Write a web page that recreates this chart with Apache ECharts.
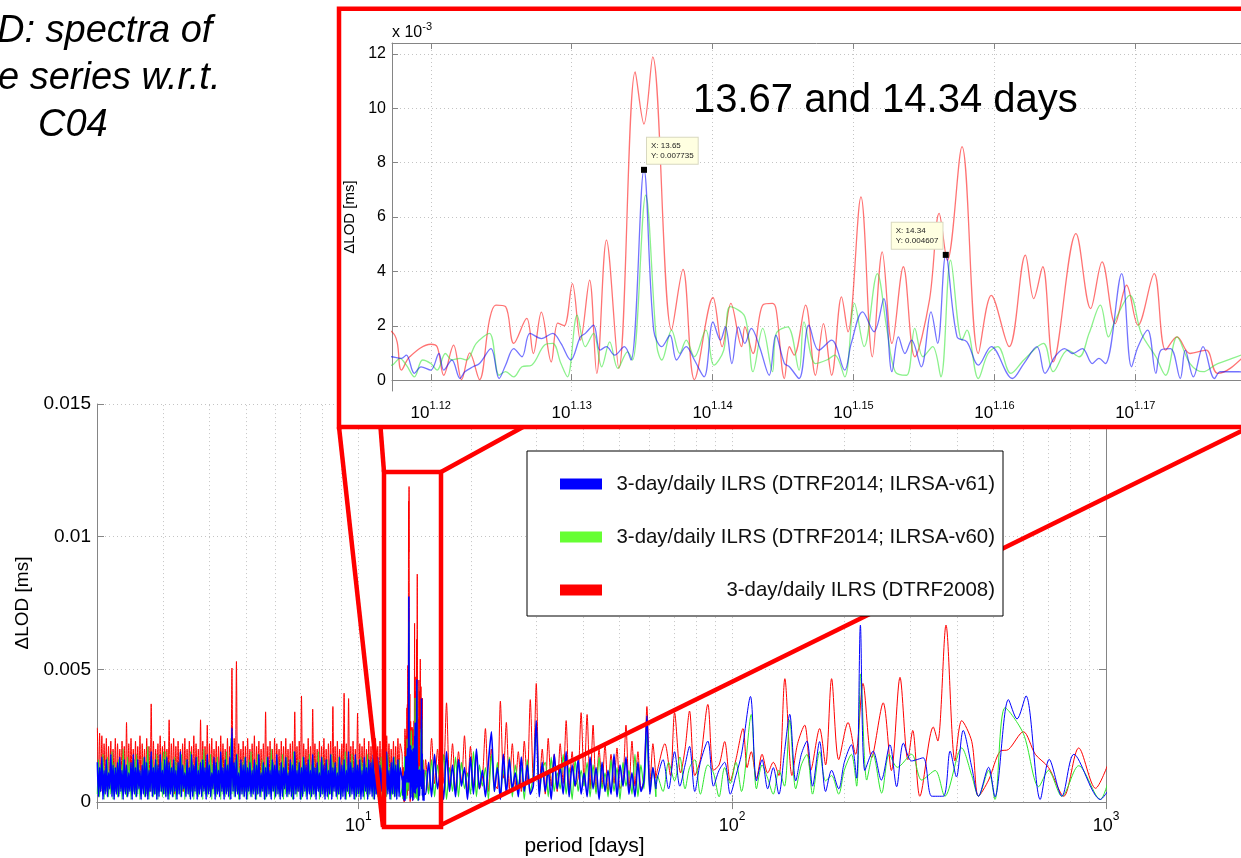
<!DOCTYPE html>
<html><head><meta charset="utf-8">
<script src="https://cdn.jsdelivr.net/npm/echarts@6/dist/echarts.min.js"></script>
<style>html,body{margin:0;padding:0;background:#fff;}#c{width:1241px;height:858px;}</style>
</head><body><div id="c"></div>
<script>
// ---------- data (values in 1e-3 ms; x as log10(period [days])) ----------
const seriesNames = ['3-day/daily ILRS (DTRF2014; ILRSA-v61)','3-day/daily ILRS (DTRF2014; ILRSA-v60)','3-day/daily ILRS (DTRF2008)'];

const denseLogP = [0.302,0.305,0.308,0.311,0.314,0.317,0.320,0.323,0.326,0.329,
0.332,0.335,0.338,0.341,0.344,0.347,0.350,0.353,0.356,0.359,
0.362,0.365,0.368,0.371,0.374,0.377,0.380,0.383,0.386,0.389,
0.392,0.395,0.398,0.401,0.404,0.407,0.410,0.413,0.416,0.419,
0.422,0.425,0.428,0.431,0.434,0.437,0.440,0.443,0.446,0.449,
0.452,0.455,0.458,0.461,0.464,0.467,0.470,0.473,0.476,0.479,
0.482,0.485,0.488,0.491,0.494,0.497,0.500,0.503,0.506,0.509,
0.512,0.515,0.518,0.521,0.524,0.527,0.530,0.533,0.536,0.539,
0.542,0.545,0.548,0.551,0.554,0.557,0.560,0.563,0.566,0.569,
0.572,0.575,0.578,0.581,0.584,0.587,0.590,0.593,0.596,0.599,
0.602,0.605,0.608,0.611,0.614,0.617,0.620,0.623,0.626,0.629,
0.632,0.635,0.638,0.641,0.644,0.647,0.650,0.653,0.656,0.659,
0.662,0.665,0.668,0.671,0.674,0.677,0.680,0.683,0.686,0.689,
0.692,0.695,0.698,0.701,0.704,0.707,0.710,0.713,0.716,0.719,
0.722,0.725,0.728,0.731,0.734,0.737,0.740,0.743,0.746,0.749,
0.752,0.755,0.758,0.761,0.764,0.767,0.770,0.773,0.776,0.779,
0.782,0.785,0.788,0.791,0.794,0.797,0.800,0.803,0.806,0.809,
0.812,0.815,0.818,0.821,0.824,0.827,0.830,0.833,0.836,0.839,
0.842,0.845,0.848,0.851,0.854,0.857,0.860,0.863,0.866,0.869,
0.872,0.875,0.878,0.881,0.884,0.887,0.890,0.893,0.896,0.899,
0.902,0.905,0.908,0.911,0.914,0.917,0.920,0.923,0.926,0.929,
0.932,0.935,0.938,0.941,0.944,0.947,0.950,0.953,0.956,0.959,
0.962,0.965,0.968,0.971,0.974,0.977,0.980,0.983,0.986,0.989,
0.992,0.995,0.998,1.001,1.004,1.007,1.010,1.013,1.016,1.019,
1.022,1.025,1.028,1.031,1.034,1.037,1.040,1.043,1.046,1.049,
1.052,1.055,1.058,1.061,1.064,1.067,1.070,1.073,1.076,1.079,
1.082,1.085,1.088,1.091,1.094,1.097,1.100,1.103,1.106,1.109,
1.112];

const blueDense = [1.5,0.2,1.3,0.4,1.7,0.1,1.2,0.3,1.6,0.2,
1.1,0.5,1.8,0.2,1.4,0.1,1.3,0.3,1.5,0.2,
1.7,0.4,1.2,0.1,1.6,0.3,1.4,0.2,1.1,0.4,
1.5,0.1,1.8,0.3,1.3,0.2,1.6,0.5,1.2,0.1,
1.4,0.3,1.7,0.2,1.5,0.1,1.2,0.4,1.9,0.2,
1.3,0.3,1.6,0.1,1.4,0.2,1.8,0.4,1.2,0.3,
1.6,0.2,1.7,0.1,1.5,0.3,1.3,0.2,1.6,0.4,
1.2,0.1,1.5,0.3,1.9,0.2,1.4,0.5,1.1,0.2,
1.6,0.3,1.3,0.1,1.8,0.2,1.4,0.4,1.7,0.1,
1.2,0.3,1.5,0.2,1.6,0.4,1.3,0.1,1.8,0.3,
1.4,0.2,1.1,0.5,1.7,0.1,1.5,0.3,1.2,0.2,
1.9,0.4,1.3,0.1,1.6,0.3,1.4,0.2,1.7,0.1,
2.8,0.4,1.5,0.2,1.8,0.3,1.1,0.1,1.6,0.3,
1.4,0.2,1.7,0.1,1.3,0.4,1.5,0.2,1.2,0.3,
1.6,0.1,1.4,0.3,1.8,0.2,1.1,0.4,1.5,0.1,
1.3,0.2,1.7,0.3,1.2,0.1,1.6,0.4,1.4,0.2,
1.8,0.3,1.2,0.1,1.5,0.2,1.3,0.5,1.7,0.2,
1.1,0.3,1.6,0.2,1.4,0.1,1.9,0.3,1.2,0.4,
1.5,0.1,1.3,0.2,1.7,0.4,1.4,0.1,1.6,0.3,
1.2,0.2,1.8,0.3,1.3,0.1,1.5,0.4,1.1,0.2,
1.7,0.3,1.4,0.1,1.6,0.2,1.2,0.3,1.8,0.1,
1.3,0.4,1.5,0.2,1.1,0.3,1.7,0.1,1.4,0.2,
1.6,0.1,1.2,0.4,1.9,0.2,1.5,0.3,1.3,0.1,
1.8,0.2,1.4,0.3,1.6,0.1,1.2,0.2,1.7,0.4,
1.3,0.1,1.6,0.3,1.5,0.2,1.8,0.1,1.2,0.3,
1.7,0.2,1.4,0.4,1.3,0.1,1.6,0.2,1.9,0.3,
1.2,0.1,1.5,0.3,1.7,0.2,1.4,0.1,1.6,0.2,
1.3];

const greenDense = [0.3,1.6,0.2,1.4,0.5,1.8,0.1,1.3,0.4,1.7,
0.2,1.2,0.3,1.9,0.1,1.5,0.4,1.3,0.2,1.6,
0.3,1.4,0.1,2.0,0.4,1.2,0.2,1.7,0.3,1.5,
0.1,1.3,0.4,1.6,0.2,1.8,0.3,1.4,0.1,1.2,
0.5,1.7,0.2,1.5,0.3,2.1,0.1,1.3,0.4,1.6,
0.2,1.4,0.3,1.8,0.1,1.2,0.4,1.5,0.2,1.9,
0.3,1.9,0.2,1.4,0.1,1.6,0.4,1.3,0.2,1.7,
0.1,1.5,0.3,1.2,0.2,1.8,0.4,1.4,0.1,1.6,
0.3,1.3,0.2,1.9,0.4,1.5,0.1,1.2,0.3,1.7,
0.2,1.4,0.5,1.6,0.1,2.0,0.3,1.3,0.2,1.5,
0.4,1.8,0.1,1.4,0.3,1.2,0.2,1.7,0.4,1.5,
0.1,1.6,0.3,1.3,0.2,1.9,0.4,1.4,0.1,2.4,
0.3,1.2,0.2,1.6,0.4,1.8,0.1,1.3,0.3,1.5,
0.2,1.7,0.4,1.4,0.1,1.6,0.3,1.9,0.2,1.3,
0.4,1.5,0.1,1.8,0.3,1.2,0.2,1.6,0.4,1.4,
0.1,1.7,0.3,1.3,0.2,2.0,0.4,1.5,0.1,1.2,
0.3,1.6,0.2,1.4,0.5,1.8,0.1,1.3,0.3,1.7,
0.2,1.2,0.4,1.5,0.1,1.9,0.3,1.4,0.2,1.6,
0.4,1.3,0.1,1.7,0.3,1.5,0.2,1.2,0.4,1.8,
0.1,1.4,0.3,1.6,0.2,1.3,0.5,1.9,0.1,1.5,
0.3,1.7,0.2,1.2,0.4,1.6,0.1,1.4,0.3,1.8,
0.2,1.5,0.4,1.3,0.1,1.7,0.3,1.2,0.2,1.6,
0.4,1.9,0.1,1.4,0.3,1.5,0.2,1.8,0.4,1.3,
0.1,1.6,0.3,1.2,0.2,1.7,0.4,1.5,0.1,1.4,
0.3,1.8,0.2,1.3,0.4,1.6,0.1,1.9,0.3,1.2,
0.2,1.5,0.4,1.7,0.1,1.4,0.3,1.6,0.2,1.8,
0.4,1.3,0.1,1.5,0.3,1.7,0.2,1.4,0.4,1.6,
0.2];

const redDense = [2.8,0.6,2.6,0.4,2.5,0.8,2.2,0.5,2.4,0.3,
2.1,0.7,2.3,0.5,2.0,0.6,2.4,0.4,2.2,0.8,
2.0,0.5,2.3,0.7,2.1,0.4,3.0,0.6,2.2,0.5,
2.4,0.8,2.0,0.4,2.3,0.6,2.1,0.7,2.5,0.3,
2.2,0.6,2.0,0.5,2.4,0.7,2.1,0.4,3.7,0.6,
2.3,0.5,2.0,0.8,2.2,0.4,2.5,0.6,2.1,0.7,
2.3,0.4,2.0,0.6,3.1,0.5,2.2,0.8,2.4,0.3,
2.1,0.6,2.3,0.5,2.0,0.7,2.2,0.4,2.4,0.6,
2.0,0.5,2.3,0.8,2.1,0.4,2.5,0.6,2.2,0.7,
2.0,0.4,3.1,0.6,2.3,0.5,2.1,0.7,2.9,0.4,
2.2,0.6,2.4,0.5,2.0,0.8,2.3,0.4,2.1,0.6,
2.5,0.5,2.2,0.7,2.0,0.4,2.4,0.6,2.1,0.8,
5.05,0.7,2.4,0.6,5.3,0.5,2.2,0.8,2.0,0.4,
2.3,0.6,2.1,0.5,2.4,0.7,2.0,0.4,2.2,0.6,
2.5,0.5,2.1,0.8,2.3,0.4,2.0,0.6,2.2,0.7,
3.4,0.5,2.1,0.6,2.3,0.4,2.0,0.7,2.4,0.5,
2.2,0.8,2.0,0.4,2.3,0.6,2.1,0.5,2.4,0.7,
2.0,0.4,2.2,0.6,2.3,0.5,3.4,0.8,2.1,0.4,
2.3,0.6,4.0,0.5,2.2,0.7,2.0,0.4,2.4,0.6,
2.1,0.5,3.5,0.8,2.2,0.4,2.0,0.6,2.3,0.7,
2.1,0.5,2.4,0.6,2.0,0.4,2.2,0.8,2.3,0.5,
3.6,0.6,2.1,0.4,2.3,0.7,2.0,0.5,2.2,0.6,
4.1,0.5,2.2,0.7,3.9,0.4,2.1,0.6,2.3,0.5,
2.0,0.8,3.35,0.4,2.2,0.6,2.1,0.5,2.4,0.7,
2.0,0.4,2.3,0.6,2.1,0.5,2.2,0.8,2.4,0.6,
2.1,0.5,2.3,0.4,2.0,0.7,2.2,0.6,2.5,0.5,
2.2,0.7,2.0,0.4,2.3,0.6,2.1,0.5,2.4,0.6,
2.2];

// zoomed window (inset), traced [log10(period), value]
const blueInset = [[1.11723,0.86],[1.11792,0.8],[1.11827,0.92],[1.11884,0.25],[1.11931,0.49],[1.12,0.37],[1.12058,0.98],[1.12092,0.37],[1.1215,0.74],[1.12208,0.06],[1.12242,0.31],[1.123,0.49],[1.12346,0.61],[1.12427,1.16],[1.12485,0.06],[1.12531,0.55],[1.12589,1.16],[1.12647,0.86],[1.12704,1.72],[1.12785,1.53],[1.12866,1.72],[1.12924,1.35],[1.12993,0.74],[1.13062,1.59],[1.13097,1.72],[1.13155,2.02],[1.13201,1.1],[1.13247,1.23],[1.13305,0.92],[1.13374,1.23],[1.13421,0.74],[1.13513,7.74],[1.13582,1.84],[1.1364,1.23],[1.13698,1.65],[1.13744,0.74],[1.13813,1.23],[1.13871,0.74],[1.1394,0.12],[1.14003,2.14],[1.14056,1.47],[1.14091,1.96],[1.14137,0.61],[1.14183,1.96],[1.14229,1.35],[1.14275,1.9],[1.14333,1.23],[1.14402,0.18],[1.14449,1.65],[1.1451,0.61],[1.14545,0.49],[1.14614,0.06],[1.14683,2.02],[1.14753,1.1],[1.14845,1.47],[1.14938,0.37],[1.14984,1.35],[1.15065,2.51],[1.15146,1.78],[1.15215,3.0],[1.15273,0.31],[1.15319,1.59],[1.15365,0.98],[1.15412,1.47],[1.15481,0.49],[1.1555,2.51],[1.15597,1.35],[1.15655,4.61],[1.15735,1.59],[1.15805,1.41],[1.15886,0.55],[1.15978,1.23],[1.16128,0.06],[1.16209,0.61],[1.16302,1.23],[1.16359,0.25],[1.16429,0.86],[1.16498,1.16],[1.16556,0.98],[1.16625,1.16],[1.16695,0.61],[1.16741,0.8],[1.16787,0.61],[1.16903,3.92],[1.16973,0.49],[1.17019,1.23],[1.17088,1.84],[1.17146,0.25],[1.17181,1.1],[1.1725,1.16],[1.17319,0.06],[1.17354,1.1],[1.17412,0.12],[1.17481,1.23],[1.17562,0.06],[1.17604,0.31]];

const greenInset = [[1.11723,0.55],[1.1178,0.8],[1.11827,0.55],[1.11884,0.12],[1.11942,0.74],[1.12,0.61],[1.12046,0.37],[1.12104,0.98],[1.1215,0.74],[1.12208,0.8],[1.12254,0.74],[1.12323,1.35],[1.12416,1.72],[1.12485,0.18],[1.12531,0.31],[1.12589,0.12],[1.12647,0.49],[1.12716,0.55],[1.12808,1.29],[1.12866,1.35],[1.12924,0.61],[1.1297,0.12],[1.13039,2.39],[1.13097,1.23],[1.13155,1.72],[1.13213,0.49],[1.1327,1.41],[1.13328,0.43],[1.13397,1.04],[1.13432,0.74],[1.13525,6.8],[1.13605,1.23],[1.1364,0.74],[1.13709,1.84],[1.13767,0.98],[1.13813,1.47],[1.13871,0.86],[1.13952,1.84],[1.1401,0.55],[1.14079,1.1],[1.14125,2.7],[1.14229,2.33],[1.14287,0.31],[1.14356,1.9],[1.14425,0.31],[1.14452,1.72],[1.14533,1.96],[1.14614,0.37],[1.14649,2.14],[1.1473,0.61],[1.1481,0.74],[1.14868,0.92],[1.14938,0.12],[1.15007,2.82],[1.15076,1.23],[1.15169,3.92],[1.15238,1.84],[1.15296,0.31],[1.15377,0.18],[1.15435,1.9],[1.15493,0.86],[1.15562,1.23],[1.1562,0.12],[1.15689,4.41],[1.1577,1.47],[1.15805,1.84],[1.15886,0.06],[1.15955,0.98],[1.16024,1.23],[1.16117,0.25],[1.16209,0.74],[1.16348,1.35],[1.16417,0.31],[1.16521,1.1],[1.16602,0.86],[1.16672,1.72],[1.16752,2.76],[1.1681,1.59],[1.16857,2.2],[1.16961,3.12],[1.17042,1.72],[1.17146,0.86],[1.17215,0.18],[1.17296,1.59],[1.17388,0.61],[1.17481,0.31],[1.17585,0.61]];

const redInset = [[1.11723,1.78],[1.11792,0.37],[1.1185,0.86],[1.12,1.32],[1.12046,1.22],[1.12092,0.18],[1.12162,1.29],[1.12219,0.02],[1.12277,1.0],[1.12346,0.02],[1.12416,2.2],[1.12462,2.76],[1.12531,2.7],[1.12589,1.35],[1.12681,2.27],[1.12728,0.98],[1.12785,2.5],[1.12855,0.67],[1.12901,2.1],[1.12947,2.0],[1.13005,3.55],[1.13062,1.47],[1.13127,3.68],[1.13178,0.25],[1.13247,5.15],[1.13335,0.43],[1.13451,11.34],[1.13513,9.42],[1.13575,11.89],[1.13709,1.84],[1.1379,4.07],[1.13871,0.02],[1.14003,3.04],[1.14068,1.23],[1.1413,2.82],[1.14206,1.23],[1.14229,1.96],[1.14287,0.98],[1.14356,2.76],[1.14425,2.82],[1.14452,2.57],[1.1451,0.06],[1.14545,1.23],[1.14579,0.92],[1.1466,2.76],[1.1473,0.18],[1.14787,2.08],[1.14845,0.18],[1.14915,3.06],[1.14961,1.78],[1.15053,6.74],[1.15134,0.86],[1.15204,4.72],[1.15273,1.35],[1.15354,4.17],[1.15435,0.86],[1.15539,2.94],[1.15608,6.13],[1.15666,4.41],[1.1577,8.59],[1.15886,0.98],[1.15978,3.12],[1.16105,1.23],[1.1622,4.6],[1.16279,3.0],[1.16343,4.17],[1.16417,0.67],[1.16579,5.39],[1.16683,2.63],[1.16764,4.35],[1.16857,2.08],[1.16938,3.49],[1.17019,2.02],[1.17134,3.92],[1.17215,1.1],[1.17296,1.59],[1.17388,0.98],[1.17504,1.1],[1.17585,0.25]];

const midLogP = [1.180,1.188,1.196,1.204,1.212,1.220,1.228,1.236,1.244,1.252,
1.260,1.268,1.276,1.284,1.292,1.300,1.308,1.316,1.324,1.332,
1.340,1.348,1.356,1.364,1.372,1.380,1.388,1.396,1.404,1.412,
1.420,1.428,1.436,1.444,1.452,1.460,1.468,1.476,1.484,1.492,
1.500,1.508,1.516,1.524,1.532,1.540,1.548,1.556,1.564,1.572,
1.580,1.588,1.596,1.604,1.612,1.620,1.628,1.636,1.644,1.652,
1.660,1.668,1.676,1.684,1.692,1.700,1.708,1.716,1.724,1.732,
1.740,1.748,1.756,1.764,1.772,1.780,1.788,1.796];

const redMid = [1.6,0.4,2.4,0.7,2.0,0.5,0.8,3.74,0.6,2.2,
0.4,1.9,0.7,2.5,0.3,2.1,0.6,1.8,0.5,0.9,
2.77,0.4,2.0,0.7,0.5,3.8,0.9,3.0,0.5,2.2,
0.6,1.9,0.4,2.3,0.7,3.86,0.8,4.47,0.5,2.0,
0.3,2.4,0.6,1.8,0.4,2.2,0.7,3.07,0.5,1.9,
0.6,0.9,3.37,0.7,3.3,0.5,2.9,0.4,2.0,0.6,
2.2,0.3,1.8,0.7,2.04,0.5,0.8,2.9,0.4,2.3,
0.6,1.9,0.5,0.8,3.6,0.6,2.2,0.9];

const blueMid = [0.3,1.5,0.2,1.8,0.5,1.2,0.1,1.9,0.4,1.4,
0.2,1.6,0.6,1.3,0.1,1.7,0.3,2.0,0.5,1.2,
0.2,1.5,2.65,0.4,1.3,0.1,1.8,0.3,1.6,0.5,
1.1,0.2,1.7,0.4,1.4,0.3,0.6,3.07,0.2,1.5,
0.4,1.2,0.1,1.8,0.5,1.3,0.3,1.9,0.2,1.4,
0.6,1.6,0.3,1.1,0.2,1.7,0.5,1.3,0.1,1.5,
0.4,1.2,0.3,1.8,0.2,1.4,0.6,1.7,0.3,1.1,
0.2,1.5,0.4,0.8,3.25,0.3,1.3,0.5];

const greenMid = [1.2,0.3,1.6,0.2,1.4,0.6,1.8,0.1,1.3,0.4,
1.7,0.2,1.5,0.5,1.1,0.3,1.9,0.2,1.4,0.6,
1.3,0.1,1.8,0.4,1.5,0.3,1.2,0.5,1.7,0.2,
1.4,0.6,1.3,0.1,1.6,0.4,1.0,2.9,0.3,1.2,
1.5,0.2,1.7,0.4,1.1,0.5,1.8,0.3,1.3,0.1,
1.6,0.4,1.2,0.6,1.5,0.2,1.4,0.3,1.7,0.5,
1.1,0.2,1.6,0.4,1.3,0.1,1.5,0.6,1.2,0.3,
1.8,0.2,1.4,0.5,2.6,0.4,1.3,0.2];

const redLong = [[1.80,1.2],[1.82,2.2],[1.835,1.0],[1.846,3.37],[1.862,1.1],[1.874,2.0],[1.886,3.43],[1.90,1.0],[1.915,1.6],[1.935,3.68],[1.95,1.2],[1.965,1.4],[1.98,2.28],[1.995,0.8],[2.01,1.6],[2.029,2.77],[2.04,1.3],[2.051,1.9],[2.065,0.9],[2.08,1.8],[2.095,1.1],[2.11,1.5],[2.125,1.0],[2.141,4.65],[2.16,1.0],[2.175,2.2],[2.194,2.9],[2.21,1.2],[2.234,2.77],[2.25,1.4],[2.266,4.65],[2.285,1.6],[2.31,3.0],[2.33,1.8],[2.35,4.47],[2.373,1.67],[2.404,3.74],[2.426,1.19],[2.449,4.7],[2.47,1.6],[2.483,2.7],[2.502,0.22],[2.538,2.83],[2.55,2.3],[2.572,6.67],[2.596,1.55],[2.614,3.07],[2.641,2.28],[2.659,0.22],[2.686,0.83],[2.717,1.92],[2.739,1.98],[2.779,2.65],[2.811,1.8],[2.846,1.31],[2.887,0.22],[2.927,2.04],[2.972,0.52],[3.007,1.49]];

const blueLong = [[1.80,0.9],[1.815,1.6],[1.83,0.5],[1.846,1.9],[1.86,0.6],[1.874,1.4],[1.886,2.1],[1.90,0.4],[1.915,1.5],[1.935,2.3],[1.95,0.6],[1.965,1.2],[1.98,1.5],[1.995,0.3],[2.01,1.0],[2.025,1.8],[2.049,3.98],[2.065,0.8],[2.08,1.6],[2.095,0.5],[2.11,1.3],[2.125,0.3],[2.14,1.9],[2.154,3.31],[2.17,0.8],[2.185,1.8],[2.2,2.3],[2.215,0.6],[2.234,2.28],[2.25,0.4],[2.266,1.2],[2.285,0.5],[2.3,1.5],[2.319,2.16],[2.333,0.9],[2.343,6.67],[2.355,1.19],[2.377,1.92],[2.399,0.83],[2.422,2.16],[2.44,0.58],[2.458,2.22],[2.48,1.55],[2.511,1.67],[2.534,0.22],[2.565,0.22],[2.583,1.92],[2.6,0.95],[2.618,2.7],[2.641,1.31],[2.659,0.22],[2.686,1.31],[2.703,0.2],[2.739,3.86],[2.762,3.13],[2.786,4.0],[2.824,0.1],[2.848,1.61],[2.882,0.22],[2.914,1.8],[2.985,0.1],[3.007,0.46]];

const greenLong = [[1.80,1.0],[1.815,0.4],[1.83,1.5],[1.846,0.8],[1.86,1.7],[1.874,0.5],[1.886,1.3],[1.90,1.6],[1.915,0.3],[1.935,1.4],[1.95,1.1],[1.965,0.2],[1.98,1.3],[1.995,0.7],[2.01,1.5],[2.025,0.4],[2.051,3.3],[2.065,0.5],[2.08,1.4],[2.095,0.9],[2.11,0.3],[2.125,1.2],[2.14,0.6],[2.154,3.1],[2.17,0.5],[2.185,1.4],[2.2,1.8],[2.215,0.3],[2.234,1.9],[2.25,0.8],[2.266,1.0],[2.285,0.3],[2.3,1.2],[2.319,1.8],[2.333,0.6],[2.344,4.83],[2.36,0.83],[2.377,1.8],[2.4,0.34],[2.42,1.8],[2.442,1.31],[2.48,1.8],[2.507,0.83],[2.543,1.19],[2.569,0.22],[2.614,2.04],[2.641,1.0],[2.659,0.22],[2.686,1.19],[2.703,0.1],[2.73,3.56],[2.779,2.58],[2.82,0.58],[2.846,1.19],[2.882,0.22],[2.927,1.37],[2.985,0.1],[3.007,0.83]];

// axes / ticks
const mainYTicks = [0, 5, 10, 15];
const mainXGrid = [3,4,5,6,7,8,9,10,20,30,40,50,60,70,80,90,100,200,300,400,500,600,700,800,900];
const insetXTicks = [1.12, 1.13, 1.14, 1.15, 1.16, 1.17];
const insetYTicks = [0, 2, 4, 6, 8, 10, 12];
// data tips
const tipPeriods = [13.65, 14.34];
const tipValues = [0.007735, 0.004607];

// ---------- build ----------
function joinParts(dense, inset, mid, long) {
  const out = [];
  denseLogP.forEach((e, i) => out.push([e, dense[i]]));
  inset.forEach(p => out.push(p));
  midLogP.forEach((e, i) => out.push([e, mid[i]]));
  long.forEach(p => out.push(p));
  return out;
}
const logData = [
  joinParts(blueDense, blueInset, blueMid, blueLong),
  joinParts(greenDense, greenInset, greenMid, greenLong),
  joinParts(redDense, redInset, redMid, redLong)
];
const toPeriod = d => d.map(p => [Math.pow(10, p[0]), p[1]]);
const SPLIT = midLogP[midLogP.length - 1];

const FONT = "'Liberation Sans', Arial, sans-serif";
const AX = '#858585';
const lineCol = ['#0000ff', '#2ee62e', '#ff0000'];
const legendCol = ['#0000ff', '#66ff33', '#ff0000'];
const denseWidth = [1.6, 1.2, 1];
const gridLine = { color: '#c4c4c4', type: [1, 3], width: 1 };

const chart = echarts.init(document.getElementById('c'));

const isPow10 = v => Math.abs(Math.log10(v) - Math.round(Math.log10(v))) < 1e-6;
const supRich = (b, s, lh) => ({
  b: { fontSize: b, fontFamily: FONT, color: '#000', lineHeight: lh, verticalAlign: 'bottom' },
  s: { fontSize: s, fontFamily: FONT, color: '#000', lineHeight: s, verticalAlign: 'top' }
});

const series = [];
series.push({
  type: 'line', name: '_grid0', xAxisIndex: 0, yAxisIndex: 0, data: [], silent: true, z: 1,
  markLine: { silent: true, z: 1, symbol: ['none', 'none'], label: { show: false }, lineStyle: gridLine, animation: false,
    data: mainXGrid.map(v => ({ xAxis: v })) }
});
// main chart: short-period (dense) part and long-period part of each series
[2, 1, 0].forEach(k => {
  series.push({
    type: 'line', name: seriesNames[k], xAxisIndex: 0, yAxisIndex: 0, z: 2,
    data: toPeriod(logData[k].filter(p => p[0] <= SPLIT)), showSymbol: false, symbol: 'none', smooth: 0.25,
    itemStyle: { color: legendCol[k] }, lineStyle: { color: lineCol[k], width: denseWidth[k] }, animation: false
  });
});
[2, 1, 0].forEach(k => {
  series.push({
    type: 'line', name: seriesNames[k], xAxisIndex: 0, yAxisIndex: 0, z: 2,
    data: toPeriod(logData[k].filter(p => p[0] >= SPLIT)), showSymbol: false, symbol: 'none', smooth: 0.3,
    itemStyle: { color: legendCol[k] }, lineStyle: { color: lineCol[k], width: 1 }, animation: false
  });
});
series.push({
  type: 'line', name: '_grid1', xAxisIndex: 2, yAxisIndex: 2, data: [], silent: true, z: 15,
  markLine: { silent: true, z: 15, symbol: ['none', 'none'], label: { show: false }, lineStyle: gridLine, animation: false,
    data: insetXTicks.map(v => ({ xAxis: v })).concat(insetYTicks.map(v => ({ yAxis: v }))) }
});
[2, 1, 0].forEach(k => {
  const s = {
    type: 'line', name: seriesNames[k], xAxisIndex: 2, yAxisIndex: 2, z: 20,
    data: logData[k], showSymbol: false, symbol: 'none', smooth: 0.35,
    itemStyle: { color: legendCol[k] }, lineStyle: { color: lineCol[k], width: 1.3, opacity: 0.55 }, animation: false
  };
  if (k === 0) {
    s.markPoint = {
      z: 25, symbol: 'rect', symbolSize: 6, itemStyle: { color: '#000' }, animation: false,
      data: tipPeriods.map((p, i) => ({
        coord: [Math.log10(p), tipValues[i] * 1000],
        label: {
          show: true, formatter: 'X: ' + p + '\nY: ' + tipValues[i],
          position: i === 0 ? [6, -29] : [-51, -29],
          fontSize: 8, lineHeight: 10, fontFamily: FONT, color: '#222',
          backgroundColor: '#ffffe1', borderColor: '#d8d8c0', borderWidth: 1, padding: [3, 4], align: 'left', verticalAlign: 'top'
        }
      }))
    };
  }
  series.push(s);
});

const option = {
  animation: false,
  backgroundColor: '#fff',
  grid: [
    { left: 97, right: 135, top: 404, bottom: 42 },
    { left: 392, right: -21, top: 43, bottom: 467, z: 20 }
  ],
  xAxis: [
    { type: 'log', gridIndex: 0, min: 2, max: 1000, logBase: 10,
      axisLine: { lineStyle: { color: AX } }, axisTick: { inside: true, length: 7, lineStyle: { color: AX } },
      splitLine: { show: false },
      axisLabel: { margin: 9, formatter: v => isPow10(v) ? '{b|10}{s|' + Math.round(Math.log10(v)) + '}' : '', rich: supRich(18, 12, 24) },
      name: 'period [days]', nameLocation: 'middle', nameGap: 20,
      nameTextStyle: { fontSize: 21, fontFamily: FONT, color: '#000', padding: [0, 34, 0, 0], verticalAlign: 'top' } },
    { type: 'log', gridIndex: 0, min: 2, max: 1000, logBase: 10, position: 'top',
      axisLine: { lineStyle: { color: AX } }, axisTick: { inside: true, length: 7, lineStyle: { color: AX } },
      splitLine: { show: false }, axisLabel: { show: false } },
    { type: 'value', gridIndex: 1, min: 1.11725, max: 1.1775, z: 20,
      axisLine: { lineStyle: { color: AX } },
      axisTick: { inside: true, length: 6, customValues: insetXTicks, lineStyle: { color: AX } },
      splitLine: { show: false },
      axisLabel: { margin: 9, customValues: insetXTicks, formatter: v => '{b|10}{s|' + v.toFixed(2) + '}', rich: supRich(17, 11, 22) } },
    { type: 'value', gridIndex: 1, min: 1.11725, max: 1.1775, z: 20, position: 'top',
      axisLine: { lineStyle: { color: AX } },
      axisTick: { inside: true, length: 6, customValues: insetXTicks, lineStyle: { color: AX } },
      splitLine: { show: false }, axisLabel: { show: false } }
  ],
  yAxis: [
    { type: 'value', gridIndex: 0, min: 0, max: 15, interval: 5,
      axisLine: { show: true, lineStyle: { color: AX } }, axisTick: { show: true, inside: true, length: 7, lineStyle: { color: AX } },
      splitLine: { show: true, lineStyle: gridLine },
      axisLabel: { margin: 6, fontSize: 19, fontFamily: FONT, color: '#000', formatter: v => v === 0 ? '0' : String(v / 1000) },
      name: 'ΔLOD [ms]', nameLocation: 'middle', nameGap: 60, nameRotate: 90,
      nameTextStyle: { fontSize: 19, fontFamily: FONT, color: '#000' } },
    { type: 'value', gridIndex: 0, min: 0, max: 15, interval: 5, position: 'right',
      axisLine: { show: true, lineStyle: { color: AX } }, axisTick: { show: true, inside: true, length: 7, lineStyle: { color: AX } },
      splitLine: { show: false }, axisLabel: { show: false } },
    { type: 'value', gridIndex: 1, min: -0.4, max: 12.4, z: 20,
      axisLine: { show: true, lineStyle: { color: AX } },
      axisTick: { show: true, inside: true, length: 6, customValues: insetYTicks, lineStyle: { color: AX } },
      splitLine: { show: false },
      axisLabel: { margin: 6, customValues: insetYTicks, fontSize: 16, fontFamily: FONT, color: '#000' },
      name: 'ΔLOD [ms]', nameLocation: 'middle', nameGap: 30, nameRotate: 90,
      nameTextStyle: { fontSize: 15, fontFamily: FONT, color: '#000' } }
  ],
  legend: {
    data: seriesNames, left: 527, top: 451, orient: 'vertical', z: 8,
    backgroundColor: '#fff', borderColor: '#000', borderWidth: 1, borderRadius: 0,
    padding: [18, 8, 11, 33], itemWidth: 42, itemHeight: 11, itemGap: 23, icon: 'rect', selectedMode: false,
    formatter: n => '{r|' + n + '}',
    textStyle: { fontFamily: FONT, fontSize: 20.4, color: '#111', lineHeight: 30,
      rich: { r: { width: 388, align: 'right', fontFamily: FONT, fontSize: 20.4, lineHeight: 30, color: '#111' } } }
  },
  graphic: { elements: [
    { type: 'line', z: 6, shape: { x1: 339, y1: 427, x2: 383, y2: 827 }, style: { stroke: '#ff0000', lineWidth: 4.5 } },
    { type: 'line', z: 6, shape: { x1: 380.5, y1: 427, x2: 384, y2: 472 }, style: { stroke: '#ff0000', lineWidth: 4.5 } },
    { type: 'line', z: 6, shape: { x1: 441, y1: 472, x2: 523, y2: 427 }, style: { stroke: '#ff0000', lineWidth: 4.5 } },
    { type: 'line', z: 6, shape: { x1: 441, y1: 825, x2: 1262, y2: 421 }, style: { stroke: '#ff0000', lineWidth: 4.5 } },
    { type: 'rect', z: 6, shape: { x: 384, y: 472, width: 57, height: 355 }, style: { fill: 'none', stroke: '#ff0000', lineWidth: 4.5 } },
    { type: 'rect', z: 10, shape: { x: 339, y: 8.7, width: 1000, height: 418.3 }, style: { fill: '#fff', stroke: '#ff0000', lineWidth: 4.5 } },
    { type: 'text', z: 30, x: 693, y: 101, style: { text: '13.67 and 14.34 days', fontSize: 40, fontFamily: FONT, fill: '#000', verticalAlign: 'middle' } },
    { type: 'text', z: 30, x: 392, y: 31, style: { text: '{b|x 10}{s|-3}', verticalAlign: 'middle',
        rich: { b: { fontSize: 16, fontFamily: FONT, fill: '#000', color: '#000', lineHeight: 20, verticalAlign: 'bottom' },
                s: { fontSize: 11, fontFamily: FONT, fill: '#000', color: '#000', lineHeight: 11, verticalAlign: 'top' } } } },
    { type: 'text', z: 30, x: -3, y: 31, style: { text: 'D: spectra of', fontSize: 38, fontStyle: 'italic', fontFamily: FONT, fill: '#000', verticalAlign: 'middle' } },
    { type: 'text', z: 30, x: -2, y: 78, style: { text: 'e series w.r.t.', fontSize: 38, fontStyle: 'italic', fontFamily: FONT, fill: '#000', verticalAlign: 'middle' } },
    { type: 'text', z: 30, x: 38, y: 125, style: { text: 'C04', fontSize: 38, fontStyle: 'italic', fontFamily: FONT, fill: '#000', verticalAlign: 'middle' } }
  ] },
  series: series
};
chart.setOption(option);
</script></body></html>
